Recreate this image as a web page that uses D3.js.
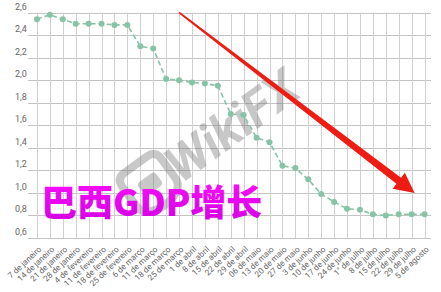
<!DOCTYPE html>
<html>
<head>
<meta charset="utf-8">
<script src="https://cdn.jsdelivr.net/npm/d3@7"></script>
<style>
  html, body { margin: 0; padding: 0; background: #fff; }
  svg { display: block; font-family: Roboto, "Noto Sans", sans-serif; }
</style>
</head>
<body>
<svg id="chart" width="441" height="292"></svg>
<script>
// ---- data ----
const categories = [
  "7 de janeiro", "14 de janeiro", "21 de janeiro", "28 de janeiro",
  "4 de fevereiro", "11 de fevereiro", "18 de fevereiro", "25 de fevereiro",
  "6 de março", "11 de março", "18 de março", "25 de março",
  "1 de abril", "8 de abril", "15 de abril", "22 de abril", "29 de abril",
  "06 de maio", "13 de maio", "20 de maio", "27 de maio",
  "3 de junho", "10 de junho", "17 de junho", "24 de junho",
  "1° de julho", "8 de julho", "15 de julho", "22 de julho", "29 de julho",
  "5 de agosto"
];
const gdpValues = [
  2.54, 2.58, 2.54, 2.50, 2.50, 2.50, 2.49, 2.49,
  2.30, 2.28, 2.01, 2.00, 1.98, 1.97, 1.95, 1.70, 1.69,
  1.49, 1.45, 1.24, 1.22, 1.12, 0.99, 0.92, 0.86,
  0.85, 0.81, 0.80, 0.81, 0.81, 0.81
];
const yTicks = [0.6, 0.8, 1.0, 1.2, 1.4, 1.6, 1.8, 2.0, 2.2, 2.4, 2.6];
const yTickLabels = ["0,6", "0,8", "1,0", "1,2", "1,4", "1,6", "1,8", "2,0", "2,2", "2,4", "2,6"];
const titleText = "巴西GDP增长";
const watermarkText = "WikiFX";
const arrowFrom = { cat: "25 de março", value: 2.6 };
const arrowTo = { cat: "29 de julho", value: 1.0 };

// ---- layout ----
const svg = d3.select("#chart");
const plotLeft = 30.5, plotRight = 431, plotTop = 12.5, plotBottom = 238;

const x = d3.scalePoint().domain(categories).range([plotLeft, plotRight]).padding(0.5);
const y = d3.scaleLinear().domain([0.6, 2.6]).range([plotBottom, plotTop]);

// horizontal gridlines
svg.append("g").selectAll("line").data(yTicks).join("line")
  .attr("x1", 28).attr("x2", plotRight)
  .attr("y1", d => Math.round(y(d)) + 0.5).attr("y2", d => Math.round(y(d)) + 0.5)
  .attr("stroke", "#c4c4c4").attr("stroke-width", 1);

// vertical gridlines
svg.append("g").selectAll("line").data(categories).join("line")
  .attr("x1", d => Math.round(x(d)) + 0.5).attr("x2", d => Math.round(x(d)) + 0.5)
  .attr("y1", plotTop).attr("y2", plotBottom)
  .attr("stroke", "#d0d0d0").attr("stroke-width", 1);

// y labels
svg.append("g").selectAll("text").data(yTicks).join("text")
  .attr("x", 15).attr("y", d => y(d) - 3)
  .attr("font-size", 9).attr("fill", "#666")
  .text((d, i) => yTickLabels[i]);

// x labels
svg.append("g").selectAll("text").data(categories).join("text")
  .attr("transform", d => `translate(${x(d) + 5},${plotBottom + 12}) rotate(-43)`)
  .attr("text-anchor", "end")
  .attr("font-size", 8.2).attr("fill", "#666")
  .text(d => d);

// watermark
const wm = svg.append("g").attr("opacity", 0.38);
wm.append("text")
  .attr("transform", "translate(242,140) rotate(-36)")
  .attr("text-anchor", "middle")
  .attr("font-size", 50).attr("font-weight", "bold").attr("font-style", "italic")
  .attr("fill", "#707070")
  .text(watermarkText);
const logo = wm.append("g").attr("transform", "translate(150,184) rotate(-36)");
logo.append("path")
  .attr("d", "M-24,-14 Q-24,-24 -14,-24 L14,-24 Q24,-24 24,-14 L24,10 Q24,24 0,26 Q-24,24 -24,10 Z")
  .attr("fill", "none").attr("stroke", "#707070").attr("stroke-width", 8);
logo.append("rect").attr("x", -11).attr("y", -8).attr("width", 22).attr("height", 16).attr("rx", 4)
  .attr("fill", "#707070");

// series line
svg.append("path")
  .datum(gdpValues)
  .attr("fill", "none")
  .attr("stroke", "#87c4a7")
  .attr("stroke-width", 1.6)
  .attr("stroke-dasharray", "5,3")
  .attr("d", d3.line().x((d, i) => x(categories[i])).y(d => y(d)));

svg.append("g").selectAll("circle").data(gdpValues).join("circle")
  .attr("cx", (d, i) => x(categories[i])).attr("cy", d => y(d))
  .attr("r", 3).attr("fill", "#87c4a7");

// red arrow
const x0 = x(arrowFrom.cat), y0 = y(arrowFrom.value);
const x1 = x(arrowTo.cat) + 3, y1 = y(arrowTo.value);
const dx = x1 - x0, dy = y1 - y0, len = Math.hypot(dx, dy);
const ux = dx / len, uy = dy / len, nx = -uy, ny = ux;
const headLen = 20, headW = 10, w0 = 0.8, w1 = 3.8;
const bx = x1 - ux * headLen, by = y1 - uy * headLen;
const pts = [
  [x0 + nx * w0, y0 + ny * w0],
  [bx + nx * w1, by + ny * w1],
  [bx + nx * headW, by + ny * headW],
  [x1, y1],
  [bx - nx * headW, by - ny * headW],
  [bx - nx * w1, by - ny * w1],
  [x0 - nx * w0, y0 - ny * w0]
];
svg.append("path")
  .attr("d", d3.line()(pts) + "Z")
  .attr("fill", "#ee1c12");

// title text
const defs = svg.append("defs");
const grad = defs.append("linearGradient").attr("id", "tg").attr("x1", 0).attr("y1", 0).attr("x2", 0).attr("y2", 1);
grad.append("stop").attr("offset", "0%").attr("stop-color", "#ff10ff");
grad.append("stop").attr("offset", "100%").attr("stop-color", "#d000e0");
svg.append("text")
  .attr("x", 41).attr("y", 216)
  .attr("font-family", "'Noto Sans CJK SC', 'Noto Sans', sans-serif")
  .attr("font-size", 36).attr("font-weight", 900)
  .attr("fill", "url(#tg)")
  .text(titleText);
</script>
</body>
</html>
